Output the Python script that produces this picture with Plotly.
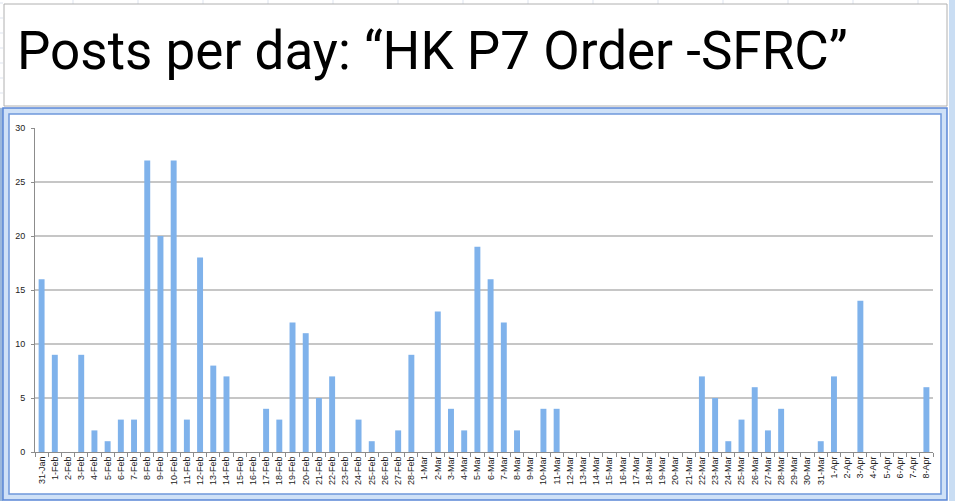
import plotly.graph_objects as go

# categories (one per day, 31-Jan .. 8-Apr)
feb_days = [f"{d}-Feb" for d in range(1, 29)]
mar_days = [f"{d}-Mar" for d in range(1, 32)]
apr_days = [f"{d}-Apr" for d in range(1, 9)]
dates = ["31-Jan"] + feb_days + mar_days + apr_days

posts_feb = [9, 0, 9, 2, 1, 3, 3, 27, 20, 27, 3, 18, 8, 7, 0, 0, 4, 3, 12, 11,
             5, 7, 0, 3, 1, 0, 2, 9]
posts_mar = [0, 13, 4, 2, 19, 16, 12, 2, 0, 4, 4, 0, 0, 0, 0, 0, 0, 0, 0, 0,
             0, 7, 5, 1, 3, 6, 2, 4, 0, 0, 1]
posts_apr = [7, 0, 14, 0, 0, 0, 0, 6]
posts = [16] + posts_feb + posts_mar + posts_apr

y_ticks = [0, 5, 10, 15, 20, 25, 30]

W, H = 955, 501
L, R, T, B = 35, 933, 128, 452


def px(x):
    return (x - L) / (R - L)


def py(y):
    return (B - y) / (B - T)


fig = go.Figure(go.Bar(
    x=dates,
    y=posts,
    marker=dict(color="#7fb2eb", line=dict(width=0)),
    hoverinfo="x+y",
))

shapes = []
# faint spreadsheet grid behind the title box
for gx in range(73, W, 65):
    shapes.append(dict(type="line", xref="paper", yref="paper",
                       x0=px(gx), x1=px(gx), y0=py(0), y1=py(4),
                       line=dict(color="#dde3ee", width=1), layer="below"))
for gy in range(3, 110, 15):
    shapes.append(dict(type="line", xref="paper", yref="paper",
                       x0=px(0), x1=px(3), y0=py(gy), y1=py(gy),
                       line=dict(color="#dde3ee", width=1), layer="below"))
# title box
shapes.append(dict(type="rect", xref="paper", yref="paper",
                   x0=px(4), x1=px(947), y0=py(4), y1=py(106),
                   line=dict(color="#b0b0b0", width=1), fillcolor="white",
                   layer="below"))
# right scrollbar strip
shapes.append(dict(type="rect", xref="paper", yref="paper",
                   x0=px(949), x1=px(W), y0=py(0), y1=py(H),
                   line=dict(width=0), fillcolor="#c9ddf3", layer="below"))
# left strip
shapes.append(dict(type="rect", xref="paper", yref="paper",
                   x0=px(0), x1=px(3), y0=py(108), y1=py(H),
                   line=dict(width=0), fillcolor="#9bb8dc", layer="below"))
# chart frame (outer blue band + inner white area)
shapes.append(dict(type="rect", xref="paper", yref="paper",
                   x0=px(3), x1=px(947), y0=py(108), y1=py(500),
                   line=dict(color="#5b87d6", width=1.5), fillcolor="#cfe1f7",
                   layer="below"))
shapes.append(dict(type="rect", xref="paper", yref="paper",
                   x0=px(9), x1=px(941), y0=py(114), y1=py(494),
                   line=dict(color="#6f98dc", width=1.5), fillcolor="white",
                   layer="below"))

fig.update_layout(
    width=W,
    height=H,
    margin=dict(l=L, r=W - R, t=T, b=H - B),
    paper_bgcolor="white",
    plot_bgcolor="rgba(0,0,0,0)",
    bargap=0.55,
    showlegend=False,
    shapes=shapes,
    annotations=[dict(
        text="Posts per day: \u201cHK P7 Order -SFRC\u201d",
        xref="paper", yref="paper",
        x=px(15), y=py(51),
        xanchor="left", yanchor="middle",
        showarrow=False,
        font=dict(family="Roboto, sans-serif", size=53, color="black"),
    )],
)

fig.update_xaxes(
    type="category",
    tickangle=-90,
    tickfont=dict(family="Liberation Sans, Arial, sans-serif", size=9, color="#222"),
    showline=True, linecolor="#8c8c8c", linewidth=1,
    ticks="outside", ticklen=4, tickcolor="#8c8c8c",
    tickson="boundaries",
    showgrid=False,
)
fig.update_yaxes(
    range=[0, 30],
    tickvals=y_ticks,
    tickfont=dict(family="Liberation Sans, Arial, sans-serif", size=9, color="#222"),
    showline=True, linecolor="#8c8c8c", linewidth=1,
    ticks="outside", ticklen=3, tickcolor="#8c8c8c",
    ticklabelstandoff=4,
    showgrid=True, gridcolor="#c6c6c6", gridwidth=1.5,
    zeroline=False,
)

fig.write_html("out.html", config={"displayModeBar": False},
               post_script="document.body.style.margin='0';")
